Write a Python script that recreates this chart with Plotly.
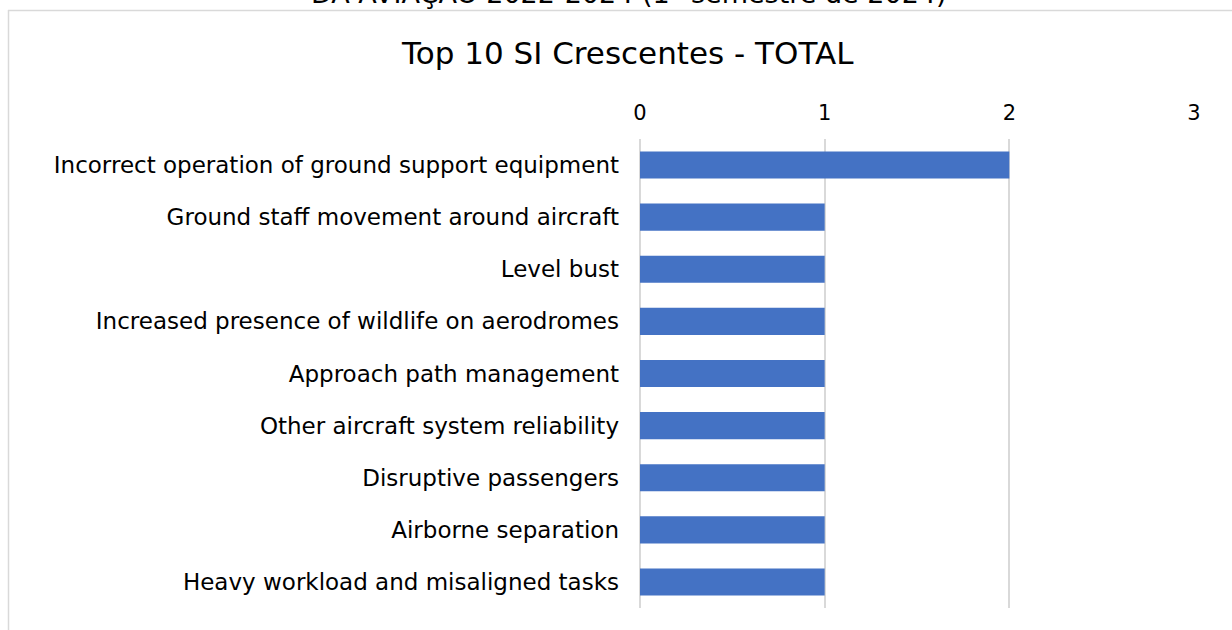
import plotly.graph_objects as go

categories = [
    "Incorrect operation of ground support equipment",
    "Ground staff movement around aircraft",
    "Level bust",
    "Increased presence of wildlife on aerodromes",
    "Approach path management",
    "Other aircraft system reliability",
    "Disruptive passengers",
    "Airborne separation",
    "Heavy workload and misaligned tasks",
]
values = [2, 1, 1, 1, 1, 1, 1, 1, 1]
tick_vals = [0, 1, 2, 3]

W, H = 1232, 630
ml, mr, mt, mb = 640, 38, 139, 22
pw, ph = W - ml - mr, H - mt - mb

def px_x(p):
    return (p - ml) / pw

def px_y(p):
    return (H - mb - p) / ph

FONT = "DejaVu Sans"

fig = go.Figure(go.Bar(
    x=values, y=categories, orientation="h",
    marker=dict(color="#4472C4", line=dict(width=0)),
))

fig.update_layout(
    width=W, height=H,
    margin=dict(l=ml, r=mr, t=mt, b=mb),
    paper_bgcolor="white", plot_bgcolor="white",
    bargap=0.48,
    showlegend=False,
    font=dict(family=FONT, color="#000000"),
    xaxis=dict(
        side="top", range=[0, 3], tickvals=tick_vals,
        showgrid=True, gridcolor="#d9d9d9", gridwidth=2,
        zeroline=True, zerolinecolor="#d9d9d9", zerolinewidth=2,
        showline=False, ticks="",
        ticklabelstandoff=14,
        tickfont=dict(size=21, family=FONT, color="#000"),
        layer="below traces",
    ),
    yaxis=dict(
        autorange="reversed", showgrid=False, zeroline=False, ticks="",
        ticklabelstandoff=20,
        tickfont=dict(size=23, family=FONT, color="#000"),
    ),
    annotations=[
        dict(text="Top 10 SI Crescentes - TOTAL", xref="paper", yref="paper",
             x=px_x(627), y=px_y(53), xanchor="center", yanchor="middle",
             showarrow=False, font=dict(size=31, family=FONT, color="#000")),
        dict(text="DA AVIAÇÃO 2022-2024 (1º semestre de 2024)", xref="paper", yref="paper",
             x=px_x(629), y=px_y(11), xanchor="center", yanchor="bottom",
             showarrow=False, font=dict(size=27, family=FONT, color="#000")),
    ],
    shapes=[
        dict(type="line", xref="paper", yref="paper",
             x0=px_x(8), x1=px_x(1240), y0=px_y(10.5), y1=px_y(10.5),
             line=dict(color="#d9d9d9", width=1.5)),
        dict(type="line", xref="paper", yref="paper",
             x0=px_x(8.5), x1=px_x(8.5), y0=px_y(10), y1=px_y(640),
             line=dict(color="#d9d9d9", width=1.5)),
    ],
)

fig.write_html("out.html")
